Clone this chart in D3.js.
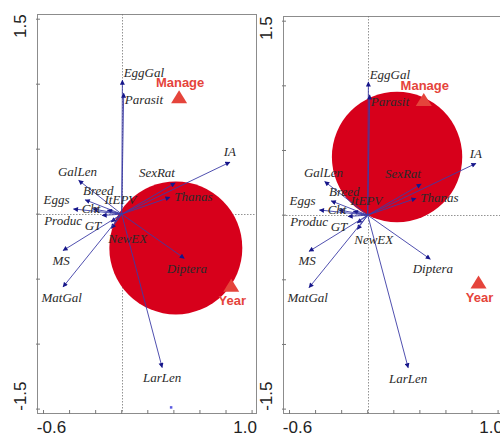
<!DOCTYPE html>
<html>
<head>
<meta charset="utf-8">
<script src="https://cdn.jsdelivr.net/npm/d3@7"></script>
<style>
html,body{margin:0;padding:0;background:#fff;}
svg{display:block;}
</style>
</head>
<body>
<svg id="chart" width="500" height="437"></svg>
<script>
// ---- data ----
const species = ["EggGal","Parasit","IA","SexRat","Thanas","GalLen","Breed","ItEPV","Eggs","Cht","Produc","GT","NewEX","MS","MatGal","Diptera","LarLen"];
const tipX   = [0.005, 0.015, 0.83, 0.41, 0.37, -0.33, -0.28, -0.11, -0.37, -0.22, -0.15, -0.08, -0.08, -0.45, -0.45, 0.48, 0.31];
const tipY   = [1.03, 0.93, 0.40, 0.24, 0.13, 0.26, 0.11, 0.03, 0.04, 0.04, -0.01, -0.06, -0.11, -0.28, -0.56, -0.34, -1.18];
const labelX = [0.17, 0.17, 0.83, 0.27, 0.55, -0.34, -0.18, -0.01, -0.50, -0.235, -0.45, -0.22, 0.046, -0.465, -0.46, 0.50, 0.31];
const labelY = [1.09, 0.88, 0.48, 0.32, 0.14, 0.33, 0.185, 0.115, 0.11, 0.046, -0.046, -0.085, -0.19, -0.354, -0.64, -0.415, -1.26];

const envNames = ["Manage","Year"];
const envXLeft  = [0.44, 0.84];
const envYLeft  = [0.90, -0.55];
const envXRight = [0.43, 0.85];
const envYRight = [0.89, -0.52];

const circleLeft  = [0.415, -0.26, 0.51];   // cx, cy, r
const circleRight = [0.225, 0.45, 0.50];

const extraPointLeft = [0.377, -1.485];

const xTicks = [-0.6,-0.4,-0.2,0,0.2,0.4,0.6,0.8,1.0];
const yTicks = [-1.5,-1.0,-0.5,0,0.5,1.0,1.5];
const xTickLabels = ["-0.6","1.0"];
const yTickLabels = ["1.5","-1.5"];
const xDomain = [-0.65, 1.03];
const yDomain = [-1.53, 1.54];

// ---- drawing ----
const svg = d3.select("#chart");
const defs = svg.append("defs");
defs.append("marker").attr("id","arr").attr("viewBox","0 0 10 10")
  .attr("refX",9).attr("refY",5).attr("markerWidth",6).attr("markerHeight",5)
  .attr("orient","auto").attr("markerUnits","userSpaceOnUse")
  .append("path").attr("d","M0,0L10,5L0,10z").attr("fill","#16168a");

function panel(cfg){
  const x = d3.scaleLinear().domain(xDomain).range(cfg.xr);
  const y = d3.scaleLinear().domain(yDomain).range(cfg.yr);
  const g = svg.append("g");
  const x0 = cfg.xr[0], x1 = cfg.xr[1], y0 = cfg.yr[1], y1 = cfg.yr[0];

  // frame
  g.append("rect").attr("x",x0+0.5).attr("y",y0+0.5)
    .attr("width",x1-x0).attr("height",y1-y0)
    .attr("fill","none").attr("stroke","#8c8c8c").attr("stroke-width",1);

  // zero lines
  g.append("line").attr("x1",x0).attr("x2",x1).attr("y1",Math.round(y(0))+0.5).attr("y2",Math.round(y(0))+0.5)
    .attr("stroke","#777").attr("stroke-width",0.8).attr("stroke-dasharray","1.5,1.5");
  g.append("line").attr("y1",y0).attr("y2",y1).attr("x1",Math.round(x(0))+0.5).attr("x2",Math.round(x(0))+0.5)
    .attr("stroke","#777").attr("stroke-width",0.8).attr("stroke-dasharray","1.5,1.5");

  // ticks
  g.selectAll(".xt").data(xTicks).enter().append("line")
    .attr("x1",d=>x(d)).attr("x2",d=>x(d)).attr("y1",y1-3).attr("y2",y1+1)
    .attr("stroke","#777");
  g.selectAll(".yt").data(yTicks).enter().append("line")
    .attr("y1",d=>y(d)).attr("y2",d=>y(d)).attr("x1",x0-1).attr("x2",x0+3)
    .attr("stroke","#777");

  // tick labels
  const tf = "Liberation Sans, Arial, sans-serif";
  g.append("text").attr("x",x(-0.6)+8).attr("y",y1+20).attr("text-anchor","middle")
    .attr("font-family",tf).attr("font-size",17).attr("fill","#222")
    .text(xTickLabels[0]);
  g.append("text").attr("x",x(1.0)-7).attr("y",y1+20).attr("text-anchor","middle")
    .attr("font-family",tf).attr("font-size",17).attr("fill","#222")
    .text(xTickLabels[1]);
  g.append("text").attr("transform",`translate(${x0-11},${y(1.5)+7}) rotate(-90)`).attr("text-anchor","middle")
    .attr("font-family",tf).attr("font-size",17).attr("fill","#222")
    .text(yTickLabels[0]);
  g.append("text").attr("transform",`translate(${x0-11},${y(-1.5)-13}) rotate(-90)`).attr("text-anchor","middle")
    .attr("font-family",tf).attr("font-size",17).attr("fill","#222")
    .text(yTickLabels[1]);

  // clip
  const cid = "clip"+cfg.id;
  defs.append("clipPath").attr("id",cid).append("rect")
    .attr("x",x0+1).attr("y",y0+1).attr("width",x1-x0-1).attr("height",y1-y0-1);
  const inner = g.append("g").attr("clip-path",`url(#${cid})`);

  // circle
  inner.append("circle").attr("cx",x(cfg.circle[0])).attr("cy",y(cfg.circle[1]))
    .attr("r",x(cfg.circle[2])-x(0)).attr("fill","#d7001b");

  // arrows
  inner.selectAll(".arrow").data(species).enter().append("line")
    .attr("x1",x(0)).attr("y1",y(0))
    .attr("x2",(d,i)=>x(tipX[i])).attr("y2",(d,i)=>y(tipY[i]))
    .attr("stroke","#3c3ca6").attr("stroke-width",0.9)
    .attr("marker-end","url(#arr)");

  // species labels
  inner.selectAll(".lab").data(species).enter().append("text")
    .attr("x",(d,i)=>x(labelX[i])).attr("y",(d,i)=>y(labelY[i]))
    .attr("dy","0.35em").attr("text-anchor","middle")
    .attr("font-family","Liberation Serif, Times New Roman, serif")
    .attr("font-style","italic").attr("font-size",13).attr("fill","#2a2a2a")
    .text(d=>d);

  // extra point
  if (cfg.extra) {
    inner.append("rect").attr("x",x(cfg.extra[0])-1).attr("y",y(cfg.extra[1])-1)
      .attr("width",2.5).attr("height",2.5).attr("fill","#5a5ae0");
  }

  // environmental triangles
  envNames.forEach((n,i)=>{
    const cx = x(cfg.envX[i]), cy = y(cfg.envY[i]);
    inner.append("path").attr("d",`M${cx},${cy-7}L${cx+8},${cy+6}L${cx-8},${cy+6}Z`)
      .attr("fill","#e5443b");
    inner.append("text").attr("x",cx+1).attr("y", i===0 ? cy-15 : cy+15)
      .attr("dy","0.35em").attr("text-anchor","middle")
      .attr("font-family","Liberation Sans, Arial, sans-serif").attr("font-weight","bold")
      .attr("font-size",13).attr("fill","#e5443b").text(n);
  });
}

panel({id:"L", xr:[37,256], yr:[413,14], circle:circleLeft, envX:envXLeft, envY:envYLeft, extra:extraPointLeft});
panel({id:"R", xr:[283,502], yr:[413,16], circle:circleRight, envX:envXRight, envY:envYRight});
</script>
</body>
</html>
